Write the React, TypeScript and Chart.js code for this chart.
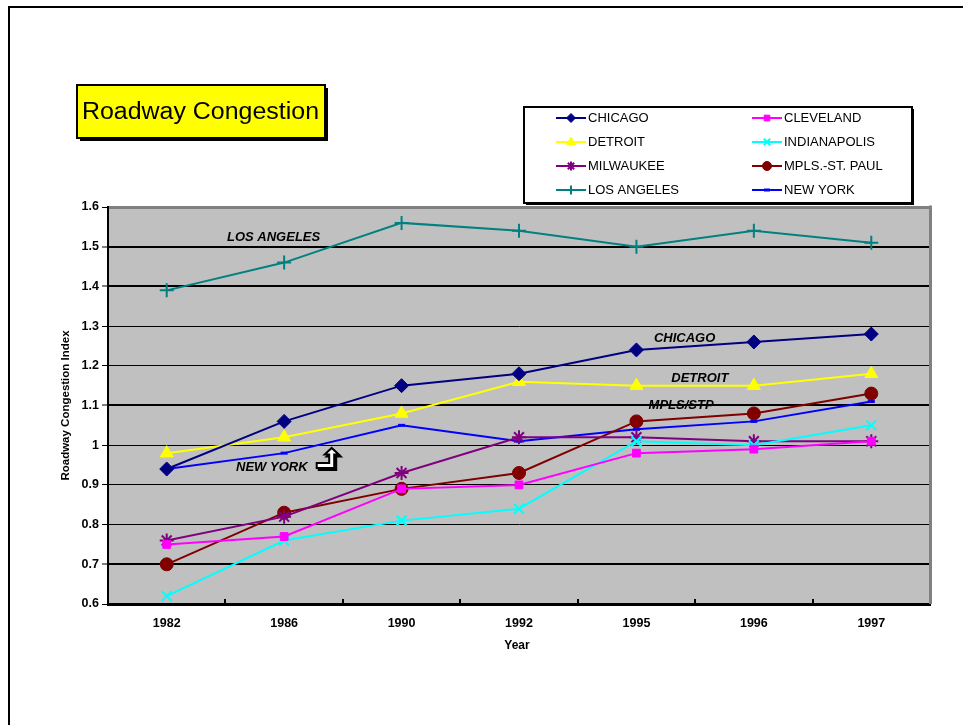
import React, { useEffect, useRef } from 'react';
import { Chart, registerables } from 'chart.js';
import { drawPoint } from 'chart.js/helpers';

Chart.register(...registerables);

// Survey years on the category axis
const YEARS = ['1982', '1986', '1990', '1992', '1995', '1996', '1997'];

// Roadway Congestion Index per metro area
const CHICAGO = [0.94, 1.06, 1.15, 1.18, 1.24, 1.26, 1.28];
const CLEVELAND = [0.75, 0.77, 0.89, 0.9, 0.98, 0.99, 1.01];
const DETROIT = [0.98, 1.02, 1.08, 1.16, 1.15, 1.15, 1.18];
const INDIANAPOLIS = [0.62, 0.76, 0.81, 0.84, 1.01, 1.0, 1.05];
const MILWAUKEE = [0.76, 0.82, 0.93, 1.02, 1.02, 1.01, 1.01];
const MPLS_ST_PAUL = [0.7, 0.83, 0.89, 0.93, 1.06, 1.08, 1.13];
const LOS_ANGELES = [1.39, 1.46, 1.56, 1.54, 1.5, 1.54, 1.51];
const NEW_YORK = [0.94, 0.98, 1.05, 1.01, 1.04, 1.06, 1.11];

// Value-axis ticks
const Y_TICKS = [0.6, 0.7, 0.8, 0.9, 1.0, 1.1, 1.2, 1.3, 1.4, 1.5, 1.6];
const HEAVY_GRID = [0.7, 1.1, 1.4, 1.5];

// In-plot city labels: [text, category position, index value]
const CITY_NOTES: [string, number, number][] = [
  ['LOS ANGELES', 0.91, 1.524],
  ['CHICAGO', 4.41, 1.27],
  ['DETROIT', 4.54, 1.169],
  ['MPLS/STP', 4.38, 1.1],
  ['NEW YORK', 0.895, 0.943],
];
// Bent arrow pointing from the NEW YORK label up to its line
const ARROW_TIP: [number, number] = [1.405, 0.993];

const FONT = '"Liberation Sans", Arial, Helvetica, sans-serif';

type Series = {
  label: string;
  data: number[];
  color: string;
  fill: string;
  style: string;
  radius: number;
  legendRadius: number;
  pointBorder: number;
};

const SERIES: Series[] = [
  { label: 'CHICAGO', data: CHICAGO, color: '#000080', fill: '#000080', style: 'rectRot', radius: 7, legendRadius: 4.5, pointBorder: 1 },
  { label: 'CLEVELAND', data: CLEVELAND, color: '#FF00FF', fill: '#FF00FF', style: 'rect', radius: 5.5, legendRadius: 4, pointBorder: 1 },
  { label: 'DETROIT', data: DETROIT, color: '#FFFF00', fill: '#FFFF00', style: 'triangle', radius: 7.5, legendRadius: 5, pointBorder: 1 },
  { label: 'INDIANAPOLIS', data: INDIANAPOLIS, color: '#00FFFF', fill: '#00FFFF', style: 'crossRot', radius: 7, legendRadius: 4.5, pointBorder: 2 },
  { label: 'MILWAUKEE', data: MILWAUKEE, color: '#800080', fill: '#800080', style: 'star', radius: 7, legendRadius: 4.5, pointBorder: 2 },
  { label: 'MPLS.-ST. PAUL', data: MPLS_ST_PAUL, color: '#800000', fill: '#800000', style: 'circle', radius: 6.5, legendRadius: 4.5, pointBorder: 1 },
  { label: 'LOS ANGELES', data: LOS_ANGELES, color: '#008080', fill: '#008080', style: 'cross', radius: 7, legendRadius: 4.5, pointBorder: 2 },
  { label: 'NEW YORK', data: NEW_YORK, color: '#0000FF', fill: '#0000FF', style: 'line', radius: 3.5, legendRadius: 3, pointBorder: 3 },
];

function xAt(chart: any, idx: number) {
  const s = chart.scales.x;
  const i0 = Math.floor(idx);
  const p0 = s.getPixelForValue(i0);
  const p1 = s.getPixelForValue(i0 + 1);
  return p0 + (idx - i0) * (p1 - p0);
}

const pagePlugin = {
  id: 'page',
  beforeDraw(chart: any) {
    const { ctx, chartArea: a, width, height } = chart;
    ctx.save();
    ctx.fillStyle = '#FFFFFF';
    ctx.fillRect(0, 0, width, height);
    // outer frame
    ctx.strokeStyle = '#000';
    ctx.lineWidth = 2;
    ctx.beginPath();
    ctx.moveTo(9, height + 5);
    ctx.lineTo(9, 7);
    ctx.lineTo(width + 5, 7);
    ctx.stroke();
    // plot background
    ctx.fillStyle = '#C0C0C0';
    ctx.fillRect(a.left, a.top, a.right - a.left, a.bottom - a.top);
    ctx.restore();
  },
  beforeDatasetsDraw(chart: any) {
    const { ctx, chartArea: a } = chart;
    const n = YEARS.length;
    ctx.save();
    // right border of plot
    ctx.strokeStyle = '#808080';
    ctx.lineWidth = 3;
    ctx.beginPath();
    ctx.moveTo(a.right + 0.5, a.top - 1.5);
    ctx.lineTo(a.right + 0.5, a.bottom);
    ctx.stroke();
    // inside tick marks between categories
    ctx.strokeStyle = '#000';
    ctx.lineWidth = 2;
    ctx.beginPath();
    for (let i = 1; i < n; i++) {
      const x = Math.round(a.left + (i * (a.right - a.left)) / n);
      ctx.moveTo(x, a.bottom);
      ctx.lineTo(x, a.bottom - 5);
    }
    ctx.stroke();
    ctx.restore();
  },
  afterDraw(chart: any) {
    const { ctx, chartArea: a } = chart;
    const y = chart.scales.y;
    ctx.save();

    // axis titles
    ctx.fillStyle = '#000';
    ctx.textAlign = 'center';
    ctx.textBaseline = 'middle';
    ctx.font = `bold 12px ${FONT}`;
    ctx.fillText('Year', (a.left + a.right) / 2 - 2, 646);
    ctx.save();
    ctx.translate(66, (a.top + a.bottom) / 2);
    ctx.rotate(-Math.PI / 2);
    ctx.font = `bold 11.5px ${FONT}`;
    ctx.fillText('Roadway Congestion Index', 0, 0);
    ctx.restore();

    // city labels
    ctx.font = `italic bold 13px ${FONT}`;
    for (const [text, xi, v] of CITY_NOTES) {
      ctx.fillText(text, xAt(chart, xi), y.getPixelForValue(v));
    }

    // bent arrow
    const tx = xAt(chart, ARROW_TIP[0]);
    const ty = y.getPixelForValue(ARROW_TIP[1]);
    const pts = [
      [0, 0], [7, 6.5], [2.5, 6.5], [2.5, 20], [-15, 20], [-15, 15], [-2.5, 15], [-2.5, 6.5], [-7, 6.5],
    ];
    const path = (dx: number, dy: number) => {
      ctx.beginPath();
      pts.forEach(([px, py], i) => {
        if (i === 0) ctx.moveTo(tx + px + dx, ty + py + dy);
        else ctx.lineTo(tx + px + dx, ty + py + dy);
      });
      ctx.closePath();
    };
    ctx.lineJoin = 'miter';
    path(2, 2);
    ctx.fillStyle = '#000';
    ctx.fill();
    ctx.lineWidth = 2;
    ctx.strokeStyle = '#000';
    ctx.stroke();
    path(0, 0);
    ctx.fillStyle = '#FFF';
    ctx.fill();
    ctx.stroke();

    // title box
    const tb = { x: 77, y: 85, w: 248, h: 53 };
    ctx.fillStyle = '#000';
    ctx.fillRect(tb.x + 3, tb.y + 3, tb.w, tb.h);
    ctx.fillStyle = '#FFFF00';
    ctx.fillRect(tb.x, tb.y, tb.w, tb.h);
    ctx.lineWidth = 2;
    ctx.strokeStyle = '#000';
    ctx.strokeRect(tb.x, tb.y, tb.w, tb.h);
    ctx.font = `23px ${FONT}`;
    ctx.textAlign = 'left';
    ctx.fillStyle = '#000';
    const title = 'Roadway Congestion';
    const tw = ctx.measureText(title).width;
    ctx.save();
    ctx.translate(82, tb.y + tb.h / 2 + 1);
    ctx.scale(237 / tw, 1);
    ctx.fillText(title, 0, 0);
    ctx.restore();

    // legend box
    const lb = { x: 524, y: 107, w: 388, h: 96 };
    ctx.fillStyle = '#000';
    ctx.fillRect(lb.x + 2, lb.y + 2, lb.w, lb.h);
    ctx.fillStyle = '#FFF';
    ctx.fillRect(lb.x, lb.y, lb.w, lb.h);
    ctx.lineWidth = 2;
    ctx.strokeRect(lb.x, lb.y, lb.w, lb.h);

    const cols = [556, 752];
    const rows = [118, 142, 166, 190];
    ctx.font = `13px ${FONT}`;
    ctx.textBaseline = 'middle';
    chart.data.datasets.forEach((ds: any, i: number) => {
      const s = SERIES[i];
      const lx = cols[i % 2];
      const ly = rows[Math.floor(i / 2)];
      ctx.strokeStyle = s.color;
      ctx.lineWidth = 2;
      ctx.beginPath();
      ctx.moveTo(lx, ly);
      ctx.lineTo(lx + 30, ly);
      ctx.stroke();
      ctx.fillStyle = s.fill;
      ctx.strokeStyle = s.color;
      ctx.lineWidth = s.pointBorder;
      drawPoint(ctx, { pointStyle: s.style as any, radius: s.legendRadius, rotation: 0, borderWidth: s.pointBorder }, lx + 15, ly);
      ctx.fillStyle = '#000';
      ctx.fillText(ds.label, lx + 32, ly + 0.5);
    });

    ctx.restore();
  },
};

export default function App() {
  const ref = useRef<HTMLCanvasElement | null>(null);

  useEffect(() => {
    if (!ref.current) return;
    Chart.defaults.font.family = FONT;
    const chart = new Chart(ref.current, {
      type: 'line',
      data: {
        labels: YEARS,
        datasets: SERIES.map((s) => ({
          label: s.label,
          data: s.data,
          borderColor: s.color,
          backgroundColor: s.fill,
          borderWidth: 2,
          pointStyle: s.style as any,
          pointRadius: s.radius,
          pointBorderWidth: s.pointBorder,
          pointBackgroundColor: s.fill,
          pointBorderColor: s.color,
          tension: 0,
          fill: false,
        })),
      },
      options: {
        responsive: false,
        animation: false,
        events: [],
        layout: { padding: { top: 207, right: 33, left: 0, bottom: 0 } },
        plugins: {
          legend: { display: false },
          title: { display: false },
          tooltip: { enabled: false },
        },
        scales: {
          x: {
            offset: true,
            grid: { display: false },
            border: { display: true, color: '#000', width: 3 },
            ticks: {
              color: '#000',
              font: { weight: 'bold', size: 12.5 },
              padding: 4,
              maxRotation: 0,
              autoSkip: false,
            },
            afterFit: (s: any) => {
              s.height = 121;
            },
          },
          y: {
            min: 0.6,
            max: 1.6,
            afterBuildTicks: (s: any) => {
              s.ticks = Y_TICKS.map((v) => ({ value: v }));
            },
            afterFit: (s: any) => {
              s.width = 108;
            },
            ticks: {
              color: '#000',
              font: { weight: 'bold', size: 12.5 },
              padding: 3,
              callback: (v: any) => String(+Number(v).toFixed(1)),
            },
            grid: {
              color: (c: any) => (c.tick && c.tick.value > 1.55 ? '#808080' : '#000'),
              lineWidth: (c: any) => {
                const v = c.tick ? c.tick.value : 0;
                if (v > 1.55) return 3;
                return HEAVY_GRID.some((h) => Math.abs(h - v) < 1e-6) ? 2 : 1;
              },
              drawTicks: true,
              tickLength: 6,
              tickColor: '#000',
              tickWidth: 1,
            },
            border: { display: true, color: '#000', width: 2 },
          },
        },
      },
      plugins: [pagePlugin],
    });
    return () => chart.destroy();
  }, []);

  return (
    <div style={{ position: 'fixed', left: 0, top: 0, width: 963, height: 725, overflow: 'hidden' }}>
      <canvas ref={ref} width={963} height={725} style={{ display: 'block', width: 963, height: 725 }} />
    </div>
  );
}
